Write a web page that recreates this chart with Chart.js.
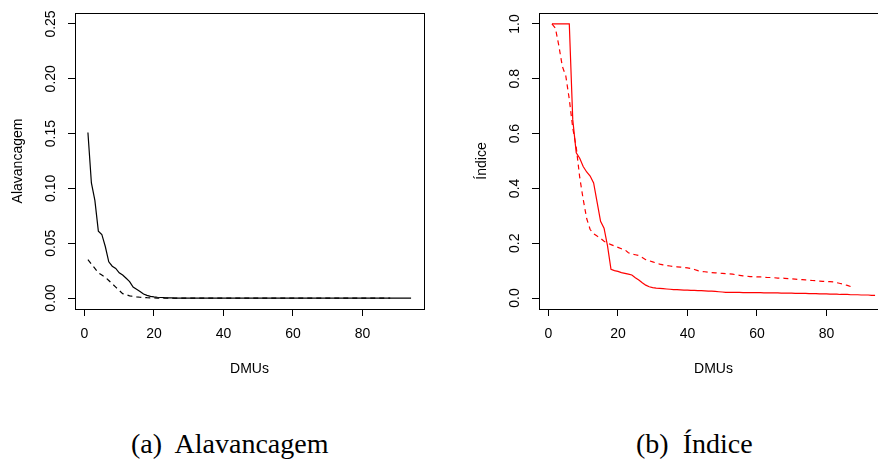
<!DOCTYPE html>
<html>
<head>
<meta charset="utf-8">
<script src="https://cdn.jsdelivr.net/npm/chart.js@4/dist/chart.umd.min.js"></script>
<style>
  html, body { margin: 0; padding: 0; background: #fff; width: 878px; height: 460px; overflow: hidden; }
  #wrap { position: relative; width: 878px; height: 460px; overflow: hidden; }
  .pane { position: absolute; top: 0; width: 439px; height: 400px; }
  .cap { position: absolute; font-family: "Liberation Serif", "DejaVu Serif", serif; font-size: 28px; line-height: 28px; color: #000; white-space: pre; }
</style>
</head>
<body>
<div id="wrap">
  <div class="pane" style="left:0px"><canvas id="c1" width="439" height="400"></canvas></div>
  <div class="pane" style="left:464px"><canvas id="c2" width="439" height="400"></canvas></div>
  <div class="cap" style="left:131px; top:430px;">(a)  Alavancagem</div>
  <div class="cap" style="left:636px; top:430px;">(b)  Índice</div>
</div>
<script>
// ---------- data ----------
const dmuTicks = [0, 20, 40, 60, 80];
const alavTicks = [0, 0.05, 0.10, 0.15, 0.20, 0.25];
const alavTickLabels = ["0.00", "0.05", "0.10", "0.15", "0.20", "0.25"];
const indiceTicks = [0, 0.2, 0.4, 0.6, 0.8, 1.0];
const indiceTickLabels = ["0.0", "0.2", "0.4", "0.6", "0.8", "1.0"];

const alavSolid = [0.151, 0.105, 0.089, 0.061, 0.058, 0.047, 0.033, 0.029, 0.027, 0.023,
  0.021, 0.018, 0.015, 0.010, 0.008, 0.006, 0.0036, 0.0024, 0.0015, 0.0010,
  0.0007, 0.0005, 0.0003, 0.0002, 0.0001, 0, 0, 0, 0, 0,
  0, 0, 0, 0, 0, 0, 0, 0, 0, 0,
  0, 0, 0, 0, 0, 0, 0, 0, 0, 0,
  0, 0, 0, 0, 0, 0, 0, 0, 0, 0,
  0, 0, 0, 0, 0, 0, 0, 0, 0, 0,
  0, 0, 0, 0, 0, 0, 0, 0, 0, 0,
  0, 0, 0, 0, 0, 0, 0, 0, 0, 0,
  0, 0, 0, 0];
const alavDashed = [0.035, 0.031, 0.027, 0.023, 0.021, 0.019, 0.016, 0.013, 0.010, 0.007,
  0.004, 0.003, 0.002, 0.0015, 0.001, 0.0007, 0.0005, 0.0003, 0.0002, 0.0001,
  0, 0, 0, 0, 0, 0, 0, 0, 0, 0,
  0, 0, 0, 0, 0, 0, 0, 0, 0, 0,
  0, 0, 0, 0, 0, 0, 0, 0, 0, 0,
  0, 0, 0, 0, 0, 0, 0, 0, 0, 0,
  0, 0, 0, 0, 0, 0, 0, 0, 0, 0,
  0, 0, 0, 0, 0, 0, 0, 0, 0, 0,
  0, 0, 0, 0, 0, 0, 0, 0];
const indiceSolid = [1, 1, 1, 1, 1, 1,
  0.65, 0.53, 0.51, 0.48, 0.46, 0.445, 0.42, 0.35, 0.28, 0.255, 0.19, 0.105,
  0.100, 0.097, 0.093, 0.090, 0.087, 0.084, 0.074, 0.066, 0.056, 0.047, 0.041, 0.038,
  0.036, 0.035, 0.034, 0.033, 0.032, 0.031, 0.031, 0.030, 0.029, 0.029,
  0.028, 0.028, 0.027, 0.027, 0.026, 0.025, 0.025, 0.024, 0.023, 0.022, 0.021,
  0.021, 0.021, 0.021, 0.021, 0.020, 0.020, 0.020, 0.020, 0.020, 0.020, 0.019,
  0.019, 0.019, 0.019, 0.019, 0.018, 0.018, 0.018, 0.018, 0.017, 0.017,
  0.017, 0.017, 0.016, 0.016, 0.016, 0.015, 0.015, 0.015, 0.014, 0.014, 0.014,
  0.013, 0.013, 0.013, 0.012, 0.012, 0.012, 0.011, 0.011, 0.011, 0.010, 0.010];
const indiceDashed = [1.0, 0.985, 0.92, 0.845, 0.81, 0.725, 0.62, 0.55, 0.44, 0.36, 0.29, 0.25,
  0.235, 0.226, 0.218, 0.207, 0.200, 0.195, 0.190, 0.185, 0.180, 0.176,
  0.165, 0.160, 0.158, 0.155, 0.148, 0.140, 0.136, 0.132, 0.128, 0.124, 0.121, 0.119,
  0.117, 0.115, 0.114, 0.113, 0.112, 0.110, 0.108,
  0.104, 0.100, 0.097, 0.096, 0.094,
  0.093, 0.092, 0.091, 0.090, 0.089, 0.088, 0.087, 0.085, 0.083, 0.081, 0.080, 0.078,
  0.078, 0.077, 0.077, 0.076, 0.075, 0.075, 0.074, 0.073, 0.073, 0.072,
  0.071, 0.070, 0.069, 0.068, 0.067, 0.066, 0.065, 0.064, 0.063, 0.062, 0.061, 0.060, 0.060, 0.059,
  0.056, 0.053, 0.050, 0.046, 0.042, 0.038];

// ---------- helpers ----------
const FONT = '"Liberation Sans", Arial, sans-serif';
function pts(arr) { return arr.map((v, i) => ({ x: i + 1, y: v })); }

function boxAndLabels(tickVals, tickLabels) {
  return {
    id: 'boxAndLabels',
    afterDraw(chart) {
      const { ctx, chartArea: a } = chart;
      ctx.save();
      ctx.strokeStyle = '#000';
      ctx.lineWidth = 1;
      ctx.strokeRect(Math.round(a.left) + 0.5, Math.round(a.top) + 0.5,
        Math.round(a.right - a.left), Math.round(a.bottom - a.top));
      const ys = chart.scales.y;
      ctx.fillStyle = '#000';
      ctx.font = '14px ' + FONT;
      ctx.textAlign = 'center';
      ctx.textBaseline = 'middle';
      tickVals.forEach((v, i) => {
        const py = ys.getPixelForValue(v);
        ctx.save();
        ctx.translate(51, py);
        ctx.rotate(-Math.PI / 2);
        ctx.fillText(tickLabels[i], 0, 0);
        ctx.restore();
      });
      ctx.restore();
    }
  };
}

function makeChart(id, solid, dashed, color, yMin, yMax, yTicks, yLabels, yTitle) {
  return new Chart(document.getElementById(id), {
    type: 'line',
    data: {
      datasets: [
        { data: pts(solid), borderColor: color, borderWidth: 1.2, pointRadius: 0, tension: 0, fill: false },
        { data: pts(dashed), borderColor: color, borderWidth: 1.2, borderDash: [5, 4], pointRadius: 0, tension: 0, fill: false }
      ]
    },
    options: {
      responsive: false,
      animation: false,
      events: [],
      layout: { padding: { left: 0, right: 15, top: 13, bottom: 0 } },
      plugins: { legend: { display: false }, tooltip: { enabled: false } },
      scales: {
        x: {
          type: 'linear',
          min: -2.72, max: 97.72,
          afterBuildTicks: s => { s.ticks = dmuTicks.map(v => ({ value: v })); },
          afterFit: s => { s.height = 91; },
          grid: { drawOnChartArea: false, drawTicks: true, tickLength: 7, color: '#000', lineWidth: 1 },
          border: { display: true, color: '#000', width: 1 },
          ticks: { color: '#000', font: { family: FONT, size: 14 }, padding: 10, maxRotation: 0, autoSkip: false,
                   callback: v => String(v) },
          title: { display: true, text: 'DMUs', color: '#000', font: { family: FONT, size: 14 }, padding: { top: 0, bottom: 22.6 } }
        },
        y: {
          type: 'linear',
          min: yMin, max: yMax,
          afterBuildTicks: s => { s.ticks = yTicks.map(v => ({ value: v })); },
          afterFit: s => { s.width = 75; },
          grid: { drawOnChartArea: false, drawTicks: true, tickLength: 7, color: '#000', lineWidth: 1 },
          border: { display: true, color: '#000', width: 1 },
          ticks: { display: false },
          title: { display: true, text: yTitle, color: '#000', font: { family: FONT, size: 14 }, padding: { top: 9.6, bottom: 0 } }
        }
      }
    },
    plugins: [boxAndLabels(yTicks, yLabels)]
  });
}

makeChart('c1', alavSolid, alavDashed, '#000000', -0.01, 0.26, alavTicks, alavTickLabels, 'Alavancagem');
makeChart('c2', indiceSolid, indiceDashed, '#ff0000', -0.04, 1.04, indiceTicks, indiceTickLabels, 'Índice');
</script>
</body>
</html>
